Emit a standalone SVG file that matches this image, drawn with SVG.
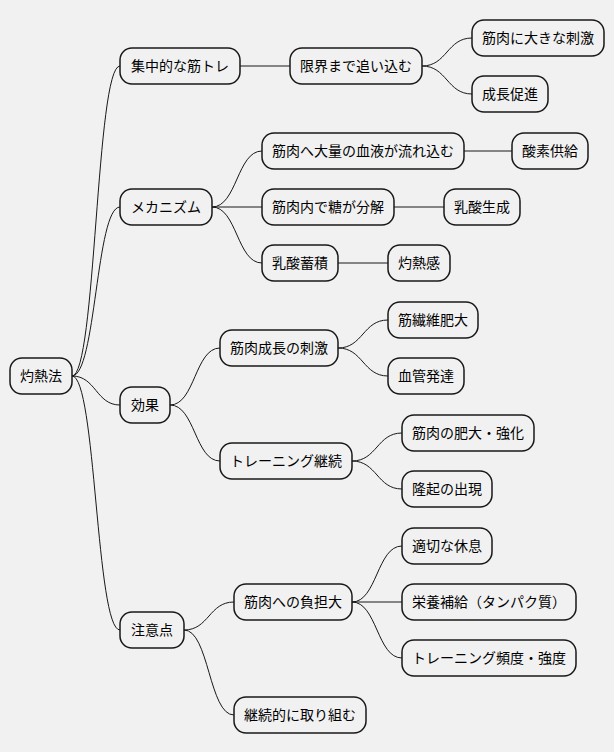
<svg xmlns="http://www.w3.org/2000/svg" width="614" height="752" viewBox="0 0 614 752">
<style>
rect{fill:#F1F1F1;stroke:#181818;stroke-width:1.5}
text{font-family:"Noto Sans CJK JP","Noto Sans",sans-serif;font-size:14px;fill:#000;text-anchor:middle}
path{fill:none;stroke:#181818;stroke-width:1}
</style>
<rect width="614" height="752" fill="#fff" style="stroke:none"/>
<g id="connectors">
<path d="M72 376 C96 376 96 66 120 66"/>
<path d="M72 376 C96 376 96 207 120 207"/>
<path d="M72 376 C96 376 96 405 120 405"/>
<path d="M72 376 C96 376 96 630 120 630"/>
<path d="M240 66 L290 66"/>
<path d="M422 66 C447 66 447 38 472 38"/>
<path d="M422 66 C447 66 447 94 472 94"/>
<path d="M212 207 C237 207 237 151 262 151"/>
<path d="M212 207 L262 207"/>
<path d="M212 207 C237 207 237 263 262 263"/>
<path d="M464 151 L512 151"/>
<path d="M394 207 L444 207"/>
<path d="M338 263 L388 263"/>
<path d="M170 405 C195 405 195 348 220 348"/>
<path d="M170 405 C195 405 195 461 220 461"/>
<path d="M338 348 C363 348 363 320 388 320"/>
<path d="M338 348 C363 348 363 376 388 376"/>
<path d="M352 461 C377 461 377 433 402 433"/>
<path d="M352 461 C377 461 377 489 402 489"/>
<path d="M184 630 C209 630 209 602 234 602"/>
<path d="M184 630 C209 630 209 715 234 715"/>
<path d="M352 602 C377 602 377 546 402 546"/>
<path d="M352 602 L402 602"/>
<path d="M352 602 C377 602 377 658 402 658"/>
</g>
<g id="n0"><rect x="10" y="358" width="62" height="36" rx="12"/><text x="41" y="381">灼熱法</text></g>
<g id="n1"><rect x="120" y="48" width="120" height="36" rx="12"/><text x="180" y="71">集中的な筋トレ</text></g>
<g id="n2"><rect x="290" y="48" width="132" height="36" rx="12"/><text x="356" y="71">限界まで追い込む</text></g>
<g id="n3"><rect x="472" y="20" width="132" height="36" rx="12"/><text x="538" y="43">筋肉に大きな刺激</text></g>
<g id="n4"><rect x="472" y="76" width="76" height="36" rx="12"/><text x="510" y="99">成長促進</text></g>
<g id="n5"><rect x="120" y="189" width="92" height="36" rx="12"/><text x="166" y="212">メカニズム</text></g>
<g id="n6"><rect x="262" y="133" width="202" height="36" rx="12"/><text x="363" y="156">筋肉へ大量の血液が流れ込む</text></g>
<g id="n7"><rect x="512" y="133" width="76" height="36" rx="12"/><text x="550" y="156">酸素供給</text></g>
<g id="n8"><rect x="262" y="189" width="132" height="36" rx="12"/><text x="328" y="212">筋肉内で糖が分解</text></g>
<g id="n9"><rect x="444" y="189" width="76" height="36" rx="12"/><text x="482" y="212">乳酸生成</text></g>
<g id="n10"><rect x="262" y="245" width="76" height="36" rx="12"/><text x="300" y="268">乳酸蓄積</text></g>
<g id="n11"><rect x="388" y="245" width="62" height="36" rx="12"/><text x="419" y="268">灼熱感</text></g>
<g id="n12"><rect x="120" y="387" width="50" height="36" rx="12"/><text x="145" y="410">効果</text></g>
<g id="n13"><rect x="220" y="330" width="118" height="36" rx="12"/><text x="279" y="353">筋肉成長の刺激</text></g>
<g id="n14"><rect x="388" y="302" width="90" height="36" rx="12"/><text x="433" y="325">筋繊維肥大</text></g>
<g id="n15"><rect x="388" y="358" width="76" height="36" rx="12"/><text x="426" y="381">血管発達</text></g>
<g id="n16"><rect x="220" y="443" width="132" height="36" rx="12"/><text x="286" y="466">トレーニング継続</text></g>
<g id="n17"><rect x="402" y="415" width="132" height="36" rx="12"/><text x="468" y="438">筋肉の肥大・強化</text></g>
<g id="n18"><rect x="402" y="471" width="90" height="36" rx="12"/><text x="447" y="494">隆起の出現</text></g>
<g id="n19"><rect x="120" y="612" width="64" height="36" rx="12"/><text x="152" y="635">注意点</text></g>
<g id="n20"><rect x="234" y="584" width="118" height="36" rx="12"/><text x="293" y="607">筋肉への負担大</text></g>
<g id="n21"><rect x="402" y="528" width="90" height="36" rx="12"/><text x="447" y="551">適切な休息</text></g>
<g id="n22"><rect x="402" y="584" width="174" height="36" rx="12"/><text x="489" y="607">栄養補給（タンパク質）</text></g>
<g id="n23"><rect x="402" y="640" width="174" height="36" rx="12"/><text x="489" y="663">トレーニング頻度・強度</text></g>
<g id="n24"><rect x="234" y="697" width="132" height="36" rx="12"/><text x="300" y="720">継続的に取り組む</text></g>
</svg>
